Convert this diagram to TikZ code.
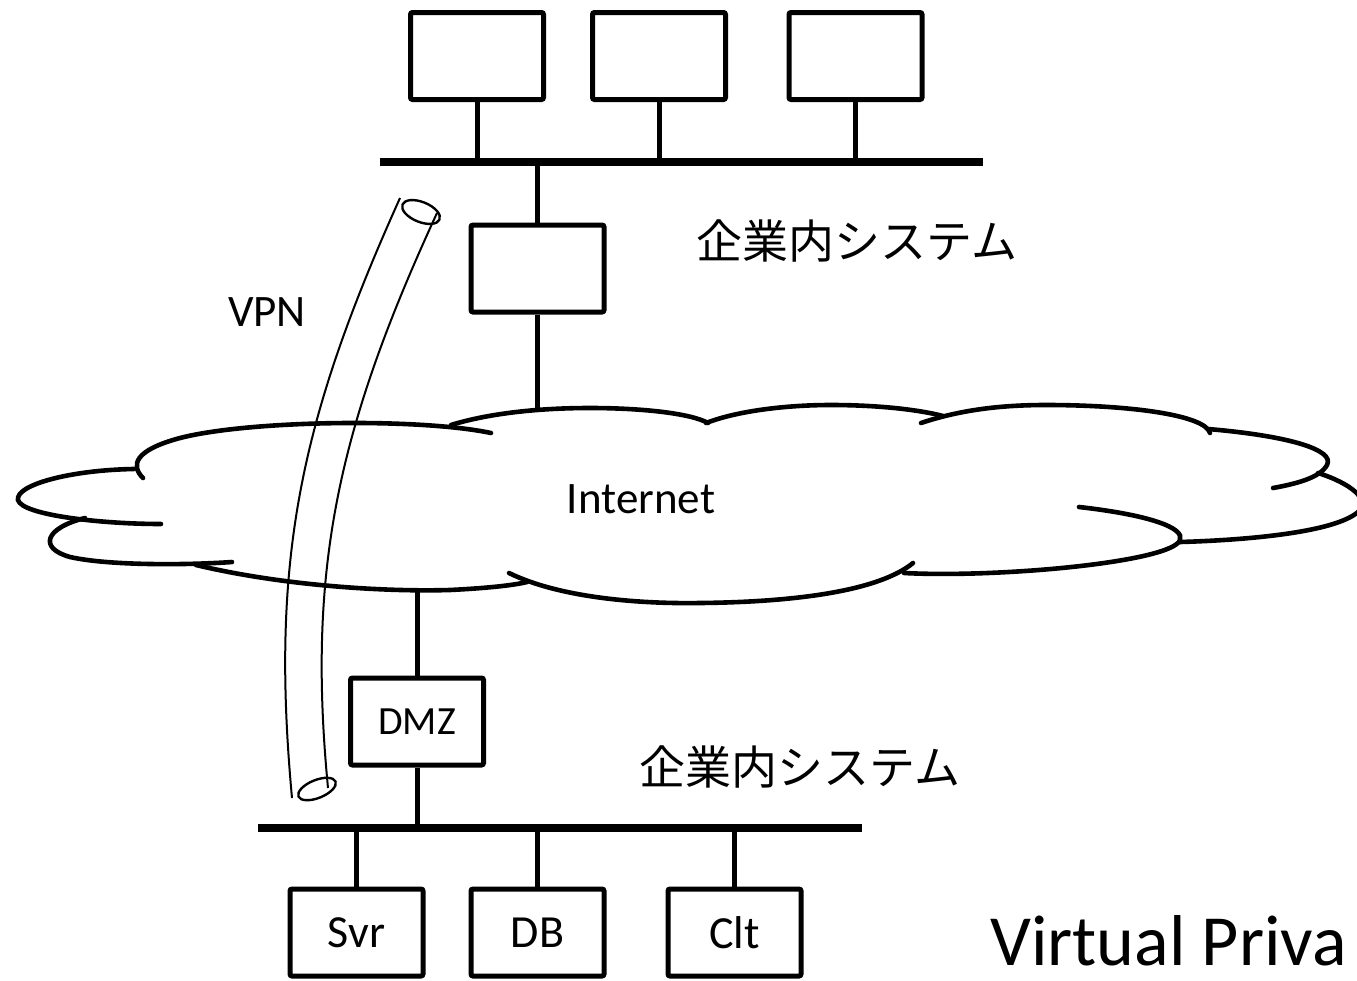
\documentclass[tikz,border=0pt]{standalone}
\usepackage{fontspec}
\setmainfont{Carlito}
\newfontfamily\jpfont{Noto Sans CJK JP}
\begin{document}
\begin{tikzpicture}[x=1pt,y=-1pt,
  dev/.style={draw, line width=5pt, rounded corners=2pt, minimum width=133pt, minimum height=87pt, inner sep=0pt, font=\fontsize{46}{54}\selectfont},
  busline/.style={line width=8.5pt},
  link/.style={line width=5pt},
  cloudline/.style={line width=4.6pt, line cap=round},
  tube/.style={line width=2pt},
  lbl/.style={inner sep=0pt, font=\fontsize{45}{52}\selectfont},
  jplbl/.style={inner sep=0pt, font=\jpfont\fontsize{46}{54}\selectfont}]
\clip (0,0) rectangle (1357,980);
% top network
\coordinate (tb1) at (380,162);
\coordinate (tb2) at (983,162);
\node[dev] (t1) at (477,56) {};
\node[dev] (t2) at (659,56) {};
\node[dev] (t3) at (855.5,56) {};
\draw[busline] (tb1) -- (tb2);
\foreach \n in {t1,t2,t3} \draw[link] (\n.south) -- (\n.south |- tb1);
\node[dev] (rt) at (537.5,268.5) {};
\coordinate (ctop) at (537.5,410);
\draw[link] (rt.north) -- (rt.north |- tb1);
\draw[link] (rt.south) -- (ctop);
\node[jplbl] (lab1) at (857,241) {企業内システム};
% cloud
\draw[cloudline] (143,478) .. controls (130,465) and (135,450) .. (180,438) .. controls (250,420) and (420,418) .. (491,433);
\draw[cloudline] (134,469) .. controls (70,470) and (15,485) .. (18,500) .. controls (22,515) and (100,524) .. (161,524);
\draw[cloudline] (85,518) .. controls (45,528) and (38,548) .. (70,557) .. controls (110,566) and (190,565) .. (232,562);
\draw[cloudline] (196,565) .. controls (280,585) and (380,592) .. (450,590) .. controls (490,588) and (515,585) .. (527,582);
\draw[cloudline] (509,573) .. controls (560,598) and (640,604) .. (700,603) .. controls (800,602) and (880,590) .. (913,563);
\draw[cloudline] (1079,507) .. controls (1150,515) and (1185,528) .. (1180,540) .. controls (1172,562) and (1000,578) .. (904,573);
\draw[cloudline] (1318,473) .. controls (1350,483) and (1372,500) .. (1358,512) .. controls (1335,532) and (1250,540) .. (1180,542);
\draw[cloudline] (1208,429) .. controls (1290,436) and (1335,450) .. (1327,465) .. controls (1320,478) and (1295,484) .. (1273,488);
\draw[cloudline] (921,423) .. controls (960,410) and (1000,405) .. (1046,405) .. controls (1130,405) and (1205,415) .. (1210,433);
\draw[cloudline] (706,423) .. controls (740,410) and (790,405) .. (831,405) .. controls (880,405) and (920,410) .. (943,416);
\draw[cloudline] (451,425) .. controls (490,413) and (540,408) .. (590,408) .. controls (640,408) and (690,413) .. (708,423);
\node[lbl] (inet) at (641,499) {Internet};
% lower network
\coordinate (cbot) at (417,588);
\coordinate (bb1) at (258,828);
\coordinate (bb2) at (862,828);
\node[dev, font=\fontsize{40}{48}\selectfont] (dmz) at (417,721.5) {DMZ};
\draw[link] (cbot) -- (dmz.north);
\draw[busline] (bb1) -- (bb2);
\draw[link] (dmz.south) -- (dmz.south |- bb1);
\node[dev] (svr) at (356.5,932.5) {Svr};
\node[dev] (db) at (537.5,932.5) {DB};
\node[dev] (clt) at (734.5,932.5) {Clt};
\foreach \n in {svr,db,clt} \draw[link] (\n.north) -- (\n.north |- bb1);
\node[jplbl] (lab2) at (800,767) {企業内システム};
% VPN tube
\draw[tube] (400,198) .. controls (300,420) and (270,560) .. (292,798);
\draw[tube] (437,213) .. controls (337,430) and (307,570) .. (328,788);
\draw[tube, line width=2.4pt, rotate around={-22:(421,212)}] (421,212) ellipse [x radius=20pt, y radius=10pt];
\draw[tube, line width=2.4pt, rotate around={22:(317,789)}] (317,789) ellipse [x radius=20pt, y radius=9pt];
\node[lbl] (vpn) at (267,312) {VPN};
\node[anchor=base west, inner sep=0pt, font=\fontsize{72}{80}\selectfont] (title) at (990,965) {Virtual Priva};
\end{tikzpicture}
\end{document}
